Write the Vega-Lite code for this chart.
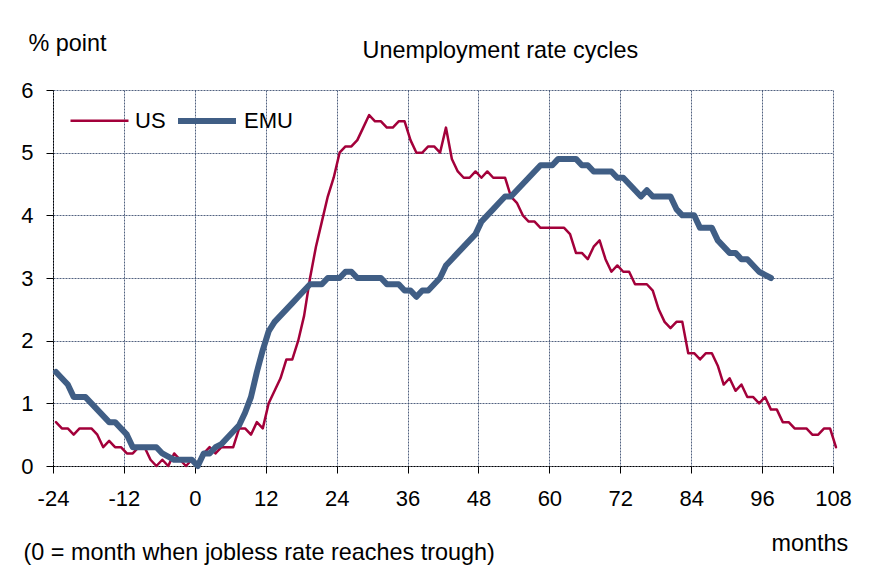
{
  "$schema": "https://vega.github.io/schema/vega-lite/v6.json",
  "autosize": "none",
  "width": 780,
  "height": 376,
  "padding": {"left": 53, "top": 90, "right": 38, "bottom": 111},
  "background": "white",
  "config": {
    "font": "Liberation Sans",
    "view": {"stroke": null},
    "axis": {"titleFontWeight": "normal", "titleColor": "black", "labelColor": "black"}
  },
  "datasets": {
    "rates": [
      {"series":"US","month":-24,"rate":0.7},{"series":"US","month":-23,"rate":0.6},{"series":"US","month":-22,"rate":0.6},{"series":"US","month":-21,"rate":0.5},
      {"series":"US","month":-20,"rate":0.6},{"series":"US","month":-19,"rate":0.6},{"series":"US","month":-18,"rate":0.6},{"series":"US","month":-17,"rate":0.5},
      {"series":"US","month":-16,"rate":0.3},{"series":"US","month":-15,"rate":0.4},{"series":"US","month":-14,"rate":0.3},{"series":"US","month":-13,"rate":0.3},
      {"series":"US","month":-12,"rate":0.2},{"series":"US","month":-11,"rate":0.2},{"series":"US","month":-10,"rate":0.3},{"series":"US","month":-9,"rate":0.3},
      {"series":"US","month":-8,"rate":0.1},{"series":"US","month":-7,"rate":0.0},{"series":"US","month":-6,"rate":0.1},{"series":"US","month":-5,"rate":0.0},
      {"series":"US","month":-4,"rate":0.2},{"series":"US","month":-3,"rate":0.1},{"series":"US","month":-2,"rate":0.0},{"series":"US","month":-1,"rate":0.1},
      {"series":"US","month":0,"rate":0.0},{"series":"US","month":1,"rate":0.2},{"series":"US","month":2,"rate":0.3},{"series":"US","month":3,"rate":0.2},
      {"series":"US","month":4,"rate":0.3},{"series":"US","month":5,"rate":0.3},{"series":"US","month":6,"rate":0.3},{"series":"US","month":7,"rate":0.6},
      {"series":"US","month":8,"rate":0.6},{"series":"US","month":9,"rate":0.5},{"series":"US","month":10,"rate":0.7},{"series":"US","month":11,"rate":0.6},
      {"series":"US","month":12,"rate":1.0},{"series":"US","month":13,"rate":1.2},{"series":"US","month":14,"rate":1.4},{"series":"US","month":15,"rate":1.7},
      {"series":"US","month":16,"rate":1.7},{"series":"US","month":17,"rate":2.0},{"series":"US","month":18,"rate":2.4},{"series":"US","month":19,"rate":3.0},
      {"series":"US","month":20,"rate":3.5},{"series":"US","month":21,"rate":3.9},{"series":"US","month":22,"rate":4.3},{"series":"US","month":23,"rate":4.6},
      {"series":"US","month":24,"rate":5.0},{"series":"US","month":25,"rate":5.1},{"series":"US","month":26,"rate":5.1},{"series":"US","month":27,"rate":5.2},
      {"series":"US","month":28,"rate":5.4},{"series":"US","month":29,"rate":5.6},{"series":"US","month":30,"rate":5.5},{"series":"US","month":31,"rate":5.5},
      {"series":"US","month":32,"rate":5.4},{"series":"US","month":33,"rate":5.4},{"series":"US","month":34,"rate":5.5},{"series":"US","month":35,"rate":5.5},
      {"series":"US","month":36,"rate":5.2},{"series":"US","month":37,"rate":5.0},{"series":"US","month":38,"rate":5.0},{"series":"US","month":39,"rate":5.1},
      {"series":"US","month":40,"rate":5.1},{"series":"US","month":41,"rate":5.0},{"series":"US","month":42,"rate":5.4},{"series":"US","month":43,"rate":4.9},
      {"series":"US","month":44,"rate":4.7},{"series":"US","month":45,"rate":4.6},{"series":"US","month":46,"rate":4.6},{"series":"US","month":47,"rate":4.7},
      {"series":"US","month":48,"rate":4.6},{"series":"US","month":49,"rate":4.7},{"series":"US","month":50,"rate":4.6},{"series":"US","month":51,"rate":4.6},
      {"series":"US","month":52,"rate":4.6},{"series":"US","month":53,"rate":4.3},{"series":"US","month":54,"rate":4.2},{"series":"US","month":55,"rate":4.0},
      {"series":"US","month":56,"rate":3.9},{"series":"US","month":57,"rate":3.9},{"series":"US","month":58,"rate":3.8},{"series":"US","month":59,"rate":3.8},
      {"series":"US","month":60,"rate":3.8},{"series":"US","month":61,"rate":3.8},{"series":"US","month":62,"rate":3.8},{"series":"US","month":63,"rate":3.7},
      {"series":"US","month":64,"rate":3.4},{"series":"US","month":65,"rate":3.4},{"series":"US","month":66,"rate":3.3},{"series":"US","month":67,"rate":3.5},
      {"series":"US","month":68,"rate":3.6},{"series":"US","month":69,"rate":3.3},{"series":"US","month":70,"rate":3.1},{"series":"US","month":71,"rate":3.2},
      {"series":"US","month":72,"rate":3.1},{"series":"US","month":73,"rate":3.1},{"series":"US","month":74,"rate":2.9},{"series":"US","month":75,"rate":2.9},
      {"series":"US","month":76,"rate":2.9},{"series":"US","month":77,"rate":2.8},{"series":"US","month":78,"rate":2.5},{"series":"US","month":79,"rate":2.3},
      {"series":"US","month":80,"rate":2.2},{"series":"US","month":81,"rate":2.3},{"series":"US","month":82,"rate":2.3},{"series":"US","month":83,"rate":1.8},
      {"series":"US","month":84,"rate":1.8},{"series":"US","month":85,"rate":1.7},{"series":"US","month":86,"rate":1.8},{"series":"US","month":87,"rate":1.8},
      {"series":"US","month":88,"rate":1.6},{"series":"US","month":89,"rate":1.3},{"series":"US","month":90,"rate":1.4},{"series":"US","month":91,"rate":1.2},
      {"series":"US","month":92,"rate":1.3},{"series":"US","month":93,"rate":1.1},{"series":"US","month":94,"rate":1.1},{"series":"US","month":95,"rate":1.0},
      {"series":"US","month":96,"rate":1.1},{"series":"US","month":97,"rate":0.9},{"series":"US","month":98,"rate":0.9},{"series":"US","month":99,"rate":0.7},
      {"series":"US","month":100,"rate":0.7},{"series":"US","month":101,"rate":0.6},{"series":"US","month":102,"rate":0.6},{"series":"US","month":103,"rate":0.6},
      {"series":"US","month":104,"rate":0.5},{"series":"US","month":105,"rate":0.5},{"series":"US","month":106,"rate":0.6},{"series":"US","month":107,"rate":0.6},
      {"series":"US","month":108,"rate":0.3},
      {"series":"EMU","month":-24,"rate":1.5},{"series":"EMU","month":-23,"rate":1.4},{"series":"EMU","month":-22,"rate":1.3},{"series":"EMU","month":-21,"rate":1.1},
      {"series":"EMU","month":-20,"rate":1.1},{"series":"EMU","month":-19,"rate":1.1},{"series":"EMU","month":-18,"rate":1.0},{"series":"EMU","month":-17,"rate":0.9},
      {"series":"EMU","month":-16,"rate":0.8},{"series":"EMU","month":-15,"rate":0.7},{"series":"EMU","month":-14,"rate":0.7},{"series":"EMU","month":-13,"rate":0.6},
      {"series":"EMU","month":-12,"rate":0.5},{"series":"EMU","month":-11,"rate":0.3},{"series":"EMU","month":-10,"rate":0.3},{"series":"EMU","month":-9,"rate":0.3},
      {"series":"EMU","month":-8,"rate":0.3},{"series":"EMU","month":-7,"rate":0.3},{"series":"EMU","month":-6,"rate":0.2},{"series":"EMU","month":-5,"rate":0.15},
      {"series":"EMU","month":-4,"rate":0.1},{"series":"EMU","month":-3,"rate":0.1},{"series":"EMU","month":-2,"rate":0.1},{"series":"EMU","month":-1,"rate":0.1},
      {"series":"EMU","month":0,"rate":0.0},{"series":"EMU","month":1,"rate":0.2},{"series":"EMU","month":2,"rate":0.2},{"series":"EMU","month":3,"rate":0.3},
      {"series":"EMU","month":4,"rate":0.35},{"series":"EMU","month":5,"rate":0.45},{"series":"EMU","month":6,"rate":0.55},{"series":"EMU","month":7,"rate":0.65},
      {"series":"EMU","month":8,"rate":0.85},{"series":"EMU","month":9,"rate":1.1},{"series":"EMU","month":10,"rate":1.5},{"series":"EMU","month":11,"rate":1.85},
      {"series":"EMU","month":12,"rate":2.15},{"series":"EMU","month":13,"rate":2.3},{"series":"EMU","month":14,"rate":2.4},{"series":"EMU","month":15,"rate":2.5},
      {"series":"EMU","month":16,"rate":2.6},{"series":"EMU","month":17,"rate":2.7},{"series":"EMU","month":18,"rate":2.8},{"series":"EMU","month":19,"rate":2.9},
      {"series":"EMU","month":20,"rate":2.9},{"series":"EMU","month":21,"rate":2.9},{"series":"EMU","month":22,"rate":3.0},{"series":"EMU","month":23,"rate":3.0},
      {"series":"EMU","month":24,"rate":3.0},{"series":"EMU","month":25,"rate":3.1},{"series":"EMU","month":26,"rate":3.1},{"series":"EMU","month":27,"rate":3.0},
      {"series":"EMU","month":28,"rate":3.0},{"series":"EMU","month":29,"rate":3.0},{"series":"EMU","month":30,"rate":3.0},{"series":"EMU","month":31,"rate":3.0},
      {"series":"EMU","month":32,"rate":2.9},{"series":"EMU","month":33,"rate":2.9},{"series":"EMU","month":34,"rate":2.9},{"series":"EMU","month":35,"rate":2.8},
      {"series":"EMU","month":36,"rate":2.8},{"series":"EMU","month":37,"rate":2.7},{"series":"EMU","month":38,"rate":2.8},{"series":"EMU","month":39,"rate":2.8},
      {"series":"EMU","month":40,"rate":2.9},{"series":"EMU","month":41,"rate":3.0},{"series":"EMU","month":42,"rate":3.2},{"series":"EMU","month":43,"rate":3.3},
      {"series":"EMU","month":44,"rate":3.4},{"series":"EMU","month":45,"rate":3.5},{"series":"EMU","month":46,"rate":3.6},{"series":"EMU","month":47,"rate":3.7},
      {"series":"EMU","month":48,"rate":3.9},{"series":"EMU","month":49,"rate":4.0},{"series":"EMU","month":50,"rate":4.1},{"series":"EMU","month":51,"rate":4.2},
      {"series":"EMU","month":52,"rate":4.3},{"series":"EMU","month":53,"rate":4.3},{"series":"EMU","month":54,"rate":4.4},{"series":"EMU","month":55,"rate":4.5},
      {"series":"EMU","month":56,"rate":4.6},{"series":"EMU","month":57,"rate":4.7},{"series":"EMU","month":58,"rate":4.8},{"series":"EMU","month":59,"rate":4.8},
      {"series":"EMU","month":60,"rate":4.8},{"series":"EMU","month":61,"rate":4.9},{"series":"EMU","month":62,"rate":4.9},{"series":"EMU","month":63,"rate":4.9},
      {"series":"EMU","month":64,"rate":4.9},{"series":"EMU","month":65,"rate":4.8},{"series":"EMU","month":66,"rate":4.8},{"series":"EMU","month":67,"rate":4.7},
      {"series":"EMU","month":68,"rate":4.7},{"series":"EMU","month":69,"rate":4.7},{"series":"EMU","month":70,"rate":4.7},{"series":"EMU","month":71,"rate":4.6},
      {"series":"EMU","month":72,"rate":4.6},{"series":"EMU","month":73,"rate":4.5},{"series":"EMU","month":74,"rate":4.4},{"series":"EMU","month":75,"rate":4.3},
      {"series":"EMU","month":76,"rate":4.4},{"series":"EMU","month":77,"rate":4.3},{"series":"EMU","month":78,"rate":4.3},{"series":"EMU","month":79,"rate":4.3},
      {"series":"EMU","month":80,"rate":4.3},{"series":"EMU","month":81,"rate":4.1},{"series":"EMU","month":82,"rate":4.0},{"series":"EMU","month":83,"rate":4.0},
      {"series":"EMU","month":84,"rate":4.0},{"series":"EMU","month":85,"rate":3.8},{"series":"EMU","month":86,"rate":3.8},{"series":"EMU","month":87,"rate":3.8},
      {"series":"EMU","month":88,"rate":3.6},{"series":"EMU","month":89,"rate":3.5},{"series":"EMU","month":90,"rate":3.4},{"series":"EMU","month":91,"rate":3.4},
      {"series":"EMU","month":92,"rate":3.3},{"series":"EMU","month":93,"rate":3.3},{"series":"EMU","month":94,"rate":3.2},{"series":"EMU","month":95,"rate":3.1},
      {"series":"EMU","month":96,"rate":3.05},{"series":"EMU","month":97,"rate":3.0}
    ]
  },
  "data": {"name": "rates"},
  "layer": [
    {
      "mark": {"type": "line", "strokeCap": "round", "strokeJoin": "round"},
      "encoding": {
        "x": {
          "field": "month", "type": "quantitative",
          "scale": {"domain": [-24.5, 107.5], "nice": false, "zero": false},
          "axis": {
            "values": [-24.5, -12.5, -0.5, 11.5, 23.5, 35.5, 47.5, 59.5, 71.5, 83.5, 95.5, 107.5],
            "labelExpr": "'' + (datum.value + 0.5)",
            "labelFontSize": 22, "labelPadding": 15, "labelFlush": false, "labelOverlap": false,
            "tickSize": 7, "tickColor": "black", "tickWidth": 1,
            "domainColor": "black", "domainDash": [2, 1], "domainWidth": 1,
            "grid": true, "gridColor": "#34466A", "gridDash": [2, 1], "gridWidth": 1, "gridOpacity": 0.85,
            "title": "months", "titleFontSize": 23.4, "titleX": 718, "titleY": 84,
            "titleAlign": "left", "titleBaseline": "alphabetic", "titleAnchor": null
          }
        },
        "y": {
          "field": "rate", "type": "quantitative",
          "scale": {"domain": [0, 6], "nice": false},
          "axis": {
            "values": [0, 1, 2, 3, 4, 5, 6],
            "labelFontSize": 22, "labelPadding": 13, "labelFlush": false,
            "tickSize": 7, "tickColor": "black", "tickWidth": 1,
            "domainColor": "black", "domainDash": [2, 1], "domainWidth": 1,
            "grid": true, "gridColor": "#34466A", "gridDash": [2, 1], "gridWidth": 1, "gridOpacity": 0.85,
            "title": "% point", "titleFontSize": 23.4, "titleAngle": 0, "titleX": -25, "titleY": -40,
            "titleAlign": "left", "titleBaseline": "alphabetic", "titleAnchor": null
          }
        },
        "color": {
          "field": "series", "type": "nominal",
          "scale": {"domain": ["US", "EMU"], "range": ["#A3003A", "#405E85"]},
          "legend": {
            "title": null, "orient": "none", "legendX": 16, "legendY": -1,
            "direction": "horizontal", "symbolType": "stroke", "symbolSize": 3364,
            "labelFontSize": 22, "labelColor": "black", "labelOffset": 5,
            "columnPadding": 0, "padding": 0
          }
        },
        "strokeWidth": {
          "field": "series", "type": "nominal",
          "scale": {"domain": ["US", "EMU"], "range": [2.5, 6]},
          "legend": {
            "title": null, "orient": "none", "legendX": 16, "legendY": -1,
            "direction": "horizontal", "symbolType": "stroke", "symbolSize": 3364,
            "labelFontSize": 22, "labelColor": "black", "labelOffset": 5,
            "columnPadding": 0, "padding": 0
          }
        }
      }
    },
    {
      "mark": {"type": "line", "strokeOpacity": 0},
      "encoding": {
        "x": {
          "field": "month", "type": "quantitative",
          "axis": {
            "orient": "top", "labels": false, "ticks": false, "domain": false, "grid": false,
            "title": "Unemployment rate cycles", "titleFontSize": 23.4, "titleX": 309, "titleY": -33,
            "titleAlign": "left", "titleBaseline": "alphabetic", "titleAnchor": null
          }
        },
        "y": {
          "field": "rate", "type": "quantitative",
          "axis": {
            "orient": "right", "labels": false, "ticks": false, "domain": false, "grid": false,
            "title": "(0 = month when jobless rate reaches trough)", "titleFontSize": 23.4, "titleAngle": 0,
            "titleX": -810, "titleY": 469, "titleAlign": "left", "titleBaseline": "alphabetic", "titleAnchor": null
          }
        },
        "detail": {"field": "series", "type": "nominal"}
      }
    }
  ],
  "resolve": {"axis": {"x": "independent", "y": "independent"}}
}
